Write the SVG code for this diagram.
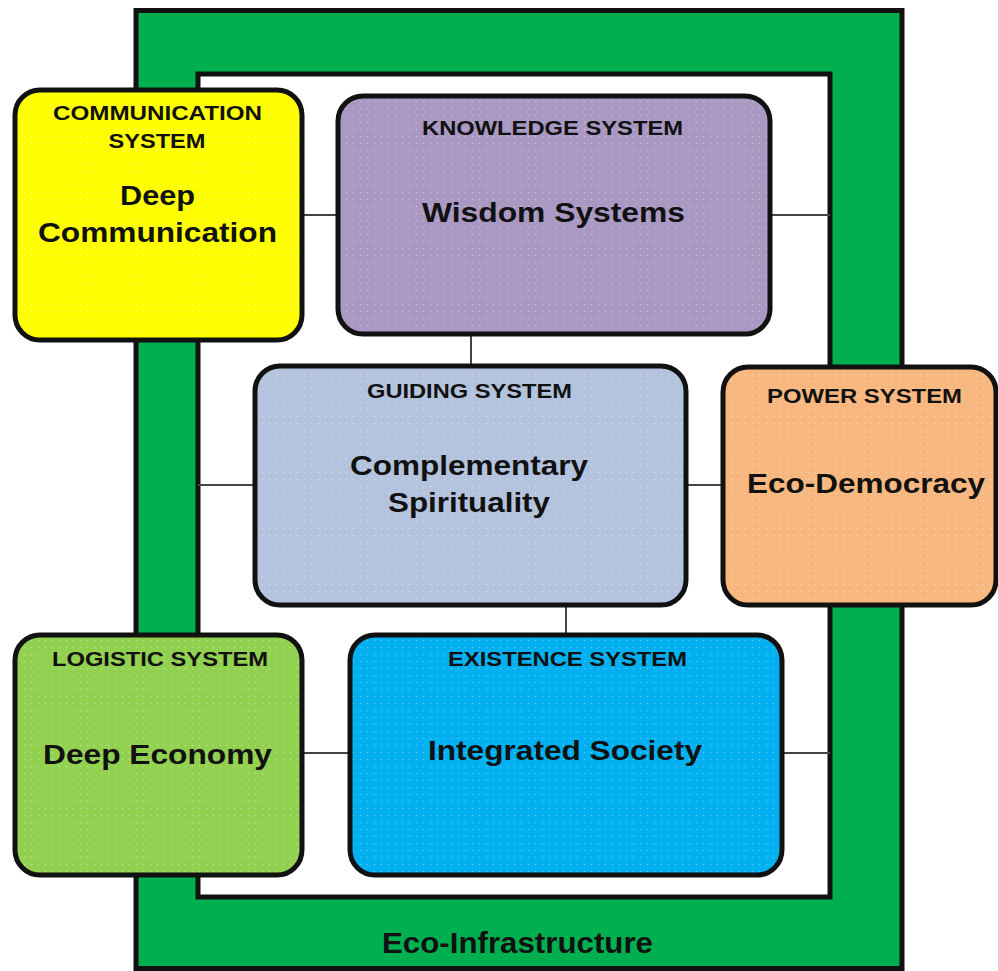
<svg xmlns="http://www.w3.org/2000/svg" width="998" height="971" viewBox="0 0 998 971">
  <defs>
    <pattern id="dots" width="7" height="7" patternUnits="userSpaceOnUse">
      <circle cx="3.5" cy="3.5" r="0.8" fill="#ffffff" fill-opacity="0.35"/>
    </pattern>
  </defs>
  <style>
    .box { stroke: #111; stroke-width: 5; }
    .tex { fill: url(#dots); stroke: none; }
    .conn { stroke: #444; stroke-width: 2; fill: none; }
    .hdr { font-family: "Liberation Sans", Arial, sans-serif; font-weight: bold; font-size: 21px; fill: #111; text-anchor: middle; }
    .main { font-family: "Liberation Sans", Arial, sans-serif; font-weight: bold; font-size: 28px; fill: #111; text-anchor: middle; }
    .infra { font-family: "Liberation Sans", Arial, sans-serif; font-weight: bold; font-size: 30px; fill: #111; text-anchor: middle; }
  </style>
  <rect width="998" height="971" fill="#ffffff"/>

  <g id="eco-infrastructure">
    <rect x="136" y="10.5" width="766" height="958" fill="#00B050" stroke="#111" stroke-width="5"/>
    <rect x="198" y="74" width="632" height="823" fill="#ffffff" stroke="#111" stroke-width="5"/>
    <text class="infra" x="517.5" y="953" textLength="271" lengthAdjust="spacingAndGlyphs">Eco-Infrastructure</text>
  </g>

  <g id="connectors">
    <line class="conn" x1="302" y1="215" x2="338" y2="215"/>
    <line class="conn" x1="770" y1="215" x2="830" y2="215"/>
    <line class="conn" x1="471" y1="334" x2="471" y2="366"/>
    <line class="conn" x1="198" y1="485" x2="255" y2="485"/>
    <line class="conn" x1="686" y1="485" x2="723" y2="485"/>
    <line class="conn" x1="566" y1="605" x2="566" y2="635"/>
    <line class="conn" x1="302" y1="753" x2="350" y2="753"/>
    <line class="conn" x1="782" y1="753" x2="830" y2="753"/>
  </g>

  <g id="communication-system">
    <rect class="box" x="15" y="90" width="287" height="250" rx="25" fill="#FFFF00"/>
    <rect class="tex" x="18" y="93" width="281" height="244" rx="22"/>
    <text class="hdr" x="157.5" y="120" textLength="209" lengthAdjust="spacingAndGlyphs">COMMUNICATION</text>
    <text class="hdr" x="157" y="148" textLength="97" lengthAdjust="spacingAndGlyphs">SYSTEM</text>
    <text class="main" x="157.5" y="205" textLength="75" lengthAdjust="spacingAndGlyphs">Deep</text>
    <text class="main" x="157.5" y="242" textLength="239" lengthAdjust="spacingAndGlyphs">Communication</text>
  </g>

  <g id="knowledge-system">
    <rect class="box" x="338" y="96" width="432" height="238" rx="25" fill="#A898C2"/>
    <rect class="tex" x="341" y="99" width="426" height="232" rx="22"/>
    <text class="hdr" x="552.5" y="135" textLength="261" lengthAdjust="spacingAndGlyphs">KNOWLEDGE SYSTEM</text>
    <text class="main" x="553.5" y="222" textLength="263" lengthAdjust="spacingAndGlyphs">Wisdom Systems</text>
  </g>

  <g id="guiding-system">
    <rect class="box" x="255" y="366" width="431" height="239" rx="25" fill="#B3C3DD"/>
    <rect class="tex" x="258" y="369" width="425" height="233" rx="22"/>
    <text class="hdr" x="469.5" y="398" textLength="205" lengthAdjust="spacingAndGlyphs">GUIDING SYSTEM</text>
    <text class="main" x="469" y="475" textLength="238" lengthAdjust="spacingAndGlyphs">Complementary</text>
    <text class="main" x="469" y="512" textLength="162" lengthAdjust="spacingAndGlyphs">Spirituality</text>
  </g>

  <g id="power-system">
    <rect class="box" x="723" y="367" width="273" height="238" rx="25" fill="#F8B77E"/>
    <rect class="tex" x="726" y="370" width="267" height="232" rx="22"/>
    <text class="hdr" x="864.5" y="403" textLength="195" lengthAdjust="spacingAndGlyphs">POWER SYSTEM</text>
    <text class="main" x="866" y="493" textLength="238" lengthAdjust="spacingAndGlyphs">Eco-Democracy</text>
  </g>

  <g id="logistic-system">
    <rect class="box" x="15" y="635" width="287" height="240" rx="25" fill="#92D050"/>
    <rect class="tex" x="18" y="638" width="281" height="234" rx="22"/>
    <text class="hdr" x="160" y="666" textLength="216" lengthAdjust="spacingAndGlyphs">LOGISTIC SYSTEM</text>
    <text class="main" x="157.5" y="764" textLength="229" lengthAdjust="spacingAndGlyphs">Deep Economy</text>
  </g>

  <g id="existence-system">
    <rect class="box" x="350" y="635" width="432" height="240" rx="25" fill="#00B0F0"/>
    <rect class="tex" x="353" y="638" width="426" height="234" rx="22"/>
    <text class="hdr" x="567.5" y="666" textLength="239" lengthAdjust="spacingAndGlyphs">EXISTENCE SYSTEM</text>
    <text class="main" x="565" y="760" textLength="274" lengthAdjust="spacingAndGlyphs">Integrated Society</text>
  </g>
</svg>
